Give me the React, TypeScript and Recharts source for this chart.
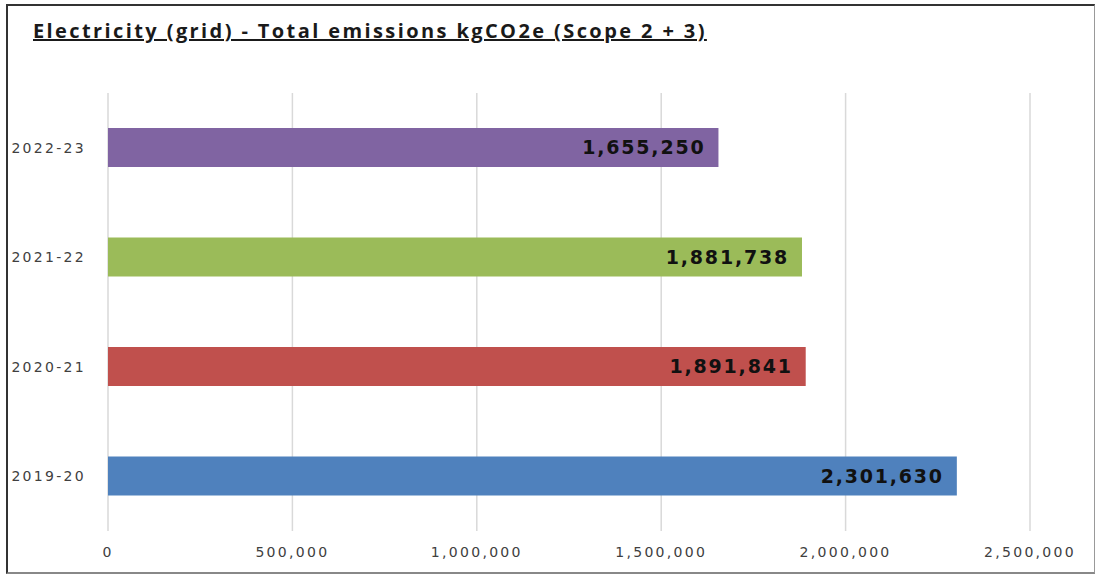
import React from 'react';
import { BarChart, Bar, XAxis, YAxis, CartesianGrid, Cell, LabelList } from 'recharts';

const years = ['2019-20', '2020-21', '2021-22', '2022-23'];
const emissions = [2301630, 1891841, 1881738, 1655250];
const barColors = ['#4F81BD', '#C0504D', '#9BBB59', '#8064A2'];
const xTicks = [0, 500000, 1000000, 1500000, 2000000, 2500000];

const data = years.map((year, i) => ({ year, value: emissions[i] }));

const fmt = (v: number) => v.toLocaleString('en-US');

const tickStyle = { fontFamily: 'DejaVu Sans', fontSize: 14, fill: '#404040', letterSpacing: 2.3 };

export default function App() {
  return (
    <div style={{ position: 'absolute', left: 0, top: 0, width: 1096, height: 574, background: '#fff' }}>
      {/* frame around the chart */}
      <div
        style={{
          position: 'absolute',
          left: 6,
          top: 4,
          width: 1086,
          height: 566,
          borderLeft: '2px solid #333',
          borderTop: '2px solid #333',
          borderRight: '1px solid #999',
          borderBottom: '2px solid #888',
        }}
      />
      <div
        style={{
          position: 'absolute',
          left: 33,
          top: 17,
          fontFamily: 'Open Sans',
          fontWeight: 700,
          fontSize: 20,
          color: '#1a1a1a',
          textDecoration: 'underline',
          whiteSpace: 'nowrap',
          letterSpacing: 2.4,
        }}
      >
        Electricity (grid) - Total emissions kgCO2e (Scope 2 + 3)
      </div>
      <div style={{ position: 'absolute', left: 0, top: 0 }}>
        <BarChart
          width={1096}
          height={574}
          data={data}
          layout="vertical"
          margin={{ top: 93, right: 66, bottom: 0, left: 0 }}
        >
          <CartesianGrid horizontal={false} stroke="#d9d9d9" strokeWidth={1.5} />
          <XAxis
            type="number"
            domain={[0, 2500000]}
            ticks={xTicks}
            tickFormatter={fmt}
            axisLine={false}
            tickLine={false}
            tickSize={0}
            tickMargin={16}
            height={43}
            tick={tickStyle}
          />
          <YAxis
            type="category"
            dataKey="year"
            reversed
            axisLine={false}
            tickLine={false}
            tickSize={0}
            tickMargin={22}
            width={108}
            tick={tickStyle}
          />
          <Bar dataKey="value" barSize={39} isAnimationActive={false}>
            {data.map((d, i) => (
              <Cell key={d.year} fill={barColors[i]} />
            ))}
            <LabelList
              dataKey="value"
              position="insideRight"
              offset={13}
              formatter={(v: any) => fmt(Number(v))}
              style={{ fontFamily: 'DejaVu Sans', fontWeight: 700, fontSize: 19, fill: '#111', letterSpacing: 1.8 }}
            />
          </Bar>
        </BarChart>
      </div>
    </div>
  );
}
